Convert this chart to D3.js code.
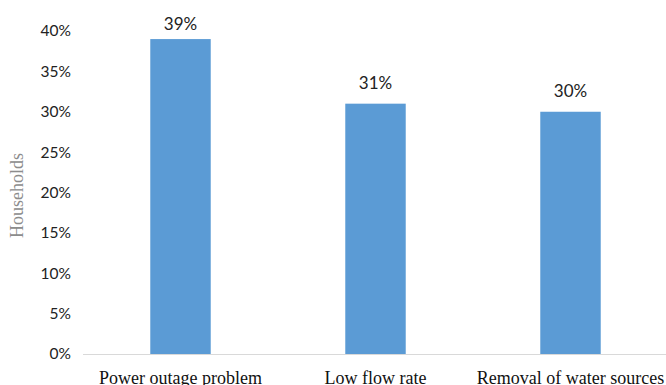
<!DOCTYPE html>
<html>
<head>
<meta charset="utf-8">
<script src="https://cdn.jsdelivr.net/npm/d3@7"></script>
<style>
  html, body { margin: 0; padding: 0; background: #fff; }
  svg { display: block; }
</style>
</head>
<body>
<script>
// Reasons reported by households
const categories = ["Power outage problem", "Low flow rate", "Removal of water sources"];
const values = [0.39, 0.31, 0.30];
const yTicks = [0, 0.05, 0.10, 0.15, 0.20, 0.25, 0.30, 0.35, 0.40];

const width = 666, height = 385;
const margin = { top: 31, right: 0, bottom: 31, left: 83 };

const svg = d3.select("body").append("svg")
  .attr("width", width)
  .attr("height", height);

const x = d3.scaleBand()
  .domain(categories)
  .range([margin.left, 668])
  .paddingInner(0.69)
  .paddingOuter(0.345);

const y = d3.scaleLinear()
  .domain([0, 0.40])
  .range([height - margin.bottom, margin.top]);

const pct = d3.format(".0%");
const sans = "Lato, 'Open Sans', 'Noto Sans', sans-serif";
const serif = "'Liberation Serif', 'Times New Roman', serif";

// Y axis labels (no axis line)
const yAxis = d3.axisLeft(y).tickValues(yTicks).tickFormat(pct).tickSize(0).tickPadding(0);
svg.append("g")
  .attr("transform", `translate(71,0)`)
  .call(yAxis)
  .call(g => g.select(".domain").remove())
  .call(g => g.selectAll("text")
    .attr("font-family", sans)
    .attr("font-size", 15.5)
    .attr("fill", "#222"));

// Bars
svg.append("g").selectAll("rect")
  .data(values)
  .join("rect")
  .attr("x", (d, i) => x(categories[i]))
  .attr("width", x.bandwidth())
  .attr("y", d => y(d))
  .attr("height", d => y(0) - y(d))
  .attr("fill", "#5b9bd5");

// Baseline
svg.append("line")
  .attr("x1", margin.left).attr("x2", width)
  .attr("y1", y(0) + 0.5).attr("y2", y(0) + 0.5)
  .attr("stroke", "#d9d9d9").attr("stroke-width", 1);

// Value labels, kept inside the top of the plot area
svg.append("g").selectAll("text")
  .data(values)
  .join("text")
  .attr("x", (d, i) => x(categories[i]) + x.bandwidth() / 2)
  .attr("y", d => Math.max(y(d) - 15, 30))
  .attr("text-anchor", "middle")
  .attr("font-family", sans)
  .attr("font-size", 17)
  .attr("fill", "#222")
  .text(d => pct(d));

// Category labels
const xAxis = d3.axisBottom(x).tickSize(0).tickPadding(0);
svg.append("g")
  .attr("transform", `translate(0,${y(0) + 30})`)
  .call(xAxis)
  .call(g => g.select(".domain").remove())
  .call(g => g.selectAll("text")
    .attr("dy", 0)
    .attr("font-family", serif)
    .attr("font-size", 18)
    .attr("fill", "#111"));

// Y axis title
svg.append("text")
  .attr("transform", `translate(23,${(y(0) + y(0.40)) / 2 + 3}) rotate(-90)`)
  .attr("text-anchor", "middle")
  .attr("font-family", serif)
  .attr("font-size", 18)
  .attr("fill", "#8c8c8c")
  .text("Households");
</script>
</body>
</html>
